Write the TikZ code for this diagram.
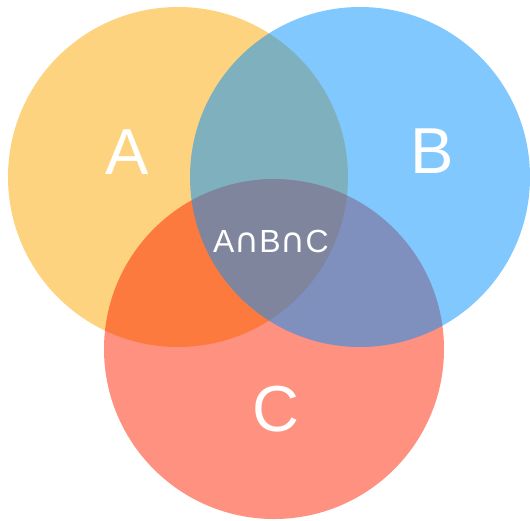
\documentclass[tikz,border=0pt]{standalone}
\usepackage{fontspec}
\setmainfont{Liberation Sans}
\newfontfamily\capfont{DejaVu Sans}
\newcommand{\mycap}{{\capfont\fontsize{34}{36}\selectfont ∩}}
\definecolor{colA}{RGB}{251,167,0}
\definecolor{colB}{RGB}{1,145,253}
\definecolor{colC}{RGB}{255,35,1}
\tikzset{
  venn/.style={circle, inner sep=0pt, minimum size=340pt, fill opacity=0.5, draw=none},
  biglabel/.style={inner sep=0pt, text=white, font=\fontsize{65}{70}\selectfont},
  midlabel/.style={inner sep=0pt, text=white, font=\fontsize{32}{36}\selectfont}
}
\begin{document}
\begin{tikzpicture}[x=1pt, y=-1pt]
\useasboundingbox (0,0) rectangle (530,520);
\node[venn, fill=colA] (cA) at (178,177) {};
\node[venn, fill=colC] (cC) at (274,349) {};
\node[venn, fill=colB] (cB) at (360,177) {};
\node[biglabel] (lA) at (127,152) {A};
\node[biglabel] (lB) at (432,151) {B};
\node[biglabel] (lC) at (275.5,409) {C};
\node[midlabel] (lABC) at (271,241) {A\mycap B\mycap C};
\end{tikzpicture}
\end{document}
